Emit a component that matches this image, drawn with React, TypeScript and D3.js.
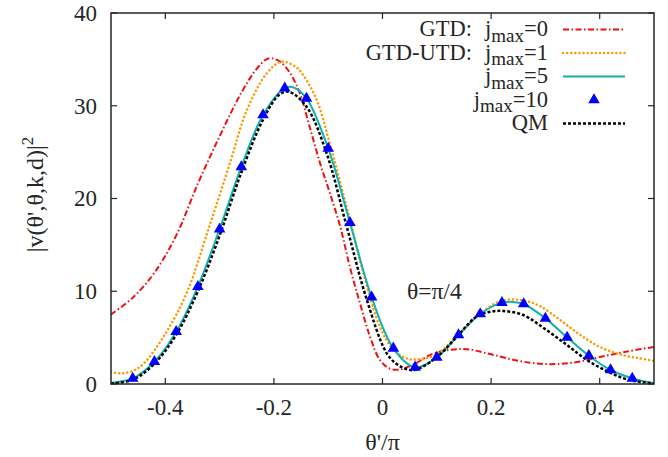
import React from "react";
import * as d3 from "d3";

// theta'/pi sample positions and |v|^2 values
const gtdX = [-0.5, -0.46, -0.42, -0.38, -0.34, -0.3, -0.26, -0.23, -0.21, -0.19, -0.17, -0.152, -0.134, -0.115, -0.097, -0.078, -0.06, -0.041, -0.023, -0.005, 0.012, 0.03, 0.06, 0.09, 0.12, 0.155, 0.2, 0.25, 0.3, 0.35, 0.4, 0.45, 0.5];
const gtdY = [7.5, 9.3, 12.0, 16.0, 21.6, 26.7, 31.4, 34.1, 35.1, 34.8, 33.5, 31.3, 27.7, 23.8, 20.6, 17.0, 12.6, 8.6, 5.1, 2.6, 1.7, 1.55, 2.2, 3.2, 3.65, 3.75, 3.2, 2.5, 2.15, 2.3, 2.9, 3.5, 4.0];

const utdX = [-0.5, -0.483, -0.46, -0.44, -0.4, -0.36, -0.32, -0.28, -0.25, -0.213, -0.186, -0.16, -0.146, -0.121, -0.097, -0.066, -0.035, -0.005, 0.02, 0.045, 0.065, 0.1, 0.14, 0.18, 0.22, 0.26, 0.29, 0.327, 0.364, 0.4, 0.437, 0.47, 0.5];
const utdY = [1.3, 1.15, 1.4, 2.2, 5.4, 9.9, 16.8, 24.0, 29.5, 33.5, 34.75, 34.2, 33.3, 30.6, 25.9, 19.1, 11.9, 6.2, 3.7, 2.75, 2.65, 3.2, 5.4, 7.6, 9.0, 9.0, 8.4, 6.9, 5.3, 4.0, 3.2, 2.8, 2.5];

const j5X = [-0.5, -0.48, -0.46, -0.42, -0.38, -0.34, -0.3, -0.26, -0.22, -0.18, -0.165, -0.14, -0.1, -0.06, -0.02, 0.02, 0.06, 0.1, 0.14, 0.18, 0.22, 0.24, 0.26, 0.3, 0.34, 0.38, 0.42, 0.46, 0.5];
const j5Y = [0.12, 0.3, 0.6, 2.4, 5.6, 10.5, 16.7, 23.4, 29.0, 31.9, 32.0, 30.8, 25.4, 17.4, 9.35, 3.85, 1.8, 2.87, 5.28, 7.55, 8.77, 8.85, 8.63, 7.08, 5.03, 3.05, 1.51, 0.61, 0.1];

const j10X = [-0.46, -0.42, -0.38, -0.34, -0.3, -0.26, -0.22, -0.18, -0.14, -0.1, -0.06, -0.02, 0.02, 0.06, 0.1, 0.14, 0.18, 0.22, 0.26, 0.3, 0.34, 0.38, 0.42, 0.46];
const j10Y = [0.61, 2.4, 5.64, 10.5, 16.7, 23.4, 29.0, 31.9, 30.8, 25.4, 17.4, 9.35, 3.85, 1.8, 2.87, 5.28, 7.55, 8.77, 8.63, 7.08, 5.03, 3.05, 1.51, 0.61];

const qmX = [-0.5, -0.46, -0.42, -0.38, -0.34, -0.3, -0.26, -0.22, -0.19, -0.172, -0.14, -0.103, -0.066, -0.029, 0.008, 0.03, 0.057, 0.1, 0.137, 0.173, 0.2, 0.223, 0.259, 0.3, 0.34, 0.376, 0.413, 0.45, 0.5];
const qmY = [0.05, 0.45, 2.2, 5.3, 10.0, 16.0, 22.8, 28.5, 31.2, 31.5, 29.9, 24.9, 17.0, 9.1, 3.3, 2.0, 1.5, 2.9, 5.1, 7.26, 7.8, 7.87, 7.44, 5.9, 4.2, 2.6, 1.4, 0.5, 0.05];

const xTicks = [-0.4, -0.2, 0, 0.2, 0.4];
const yTicks = [0, 10, 20, 30, 40];

const legendNames = ["GTD:", "GTD-UTD:", "", "", "QM"];
const legendJ = ["=0", "=1", "=5", "=10", ""];

const FONT = "Liberation Serif";
const INK = "#262626";

const left = 111, right = 654, top = 13, bottom = 384;
const x = d3.scaleLinear().domain([-0.5, 0.5]).range([left, right]);
const y = d3.scaleLinear().domain([0, 40]).range([bottom, top]);

const zip = (xs: number[], ys: number[]) => xs.map((v, i) => [v, ys[i]] as [number, number]);

const line = d3.line<[number, number]>()
    .x(d => x(d[0]))
    .y(d => y(d[1]))
    .curve(d3.curveCatmullRom.alpha(0.5));

const series = [
    { data: zip(gtdX, gtdY), color: "#ee1111", width: 2, dash: "6,2.5,1.5,2.5", cap: "butt" },
    { data: zip(utdX, utdY), color: "#ff9a00", width: 2.5, dash: "0.1,4", cap: "round" },
    { data: zip(j5X, j5Y), color: "#12b0b0", width: 2, dash: undefined, cap: "butt" },
    { data: zip(qmX, qmY), color: "#000000", width: 2.5, dash: "3,2", cap: "butt" },
];

const tri = d3.symbol().type(d3.symbolTriangle).size(58)() as string;

const txt = (size: number) => ({ fontFamily: FONT, fontSize: `${size}px`, fill: INK } as React.CSSProperties);

const App = () => {
    const tl = 6;
    return (
        <svg width={668} height={457}
            style={{ position: "absolute", left: 0, top: 0, background: "#fff" }}>
            <defs>
                <clipPath id="plotclip">
                    <rect x={left} y={top} width={right - left} height={bottom - top} />
                </clipPath>
            </defs>
            <g clipPath="url(#plotclip)">
                {series.map((s, i) => (
                    <path key={i} d={line(s.data) as string} fill="none" stroke={s.color}
                        strokeWidth={s.width} strokeLinecap={s.cap as any} strokeDasharray={s.dash} />
                ))}
                {zip(j10X, j10Y).map((d, i) => (
                    <path key={i} d={tri} transform={`translate(${x(d[0])},${y(d[1])})`} fill="#0000ff" />
                ))}
            </g>

            <rect x={left} y={top} width={right - left} height={bottom - top}
                fill="none" stroke={INK} strokeWidth={1.5} />

            {xTicks.map(t => (
                <g key={t}>
                    <line x1={x(t)} x2={x(t)} y1={bottom} y2={bottom - tl} stroke={INK} strokeWidth={1.2} />
                    <line x1={x(t)} x2={x(t)} y1={top} y2={top + tl} stroke={INK} strokeWidth={1.2} />
                    <text x={x(t)} y={bottom + 31} textAnchor="middle" style={txt(23)}>
                        {t === 0 ? "0" : d3.format(".1f")(t).replace("−", "-")}
                    </text>
                </g>
            ))}
            {yTicks.map(t => (
                <g key={t}>
                    <line x1={left} x2={left + tl} y1={y(t)} y2={y(t)} stroke={INK} strokeWidth={1.2} />
                    <line x1={right} x2={right - tl} y1={y(t)} y2={y(t)} stroke={INK} strokeWidth={1.2} />
                    <text x={left - 14} y={y(t) + 7.8} textAnchor="end" style={txt(23)}>{t}</text>
                </g>
            ))}

            <text x={(left + right) / 2} y={450} textAnchor="middle" style={txt(24)}>θ'/π</text>

            <text transform={`translate(43,${(top + bottom) / 2 - 4}) rotate(-90)`} textAnchor="middle" style={txt(24)}>
                <tspan>|v(θ',θ,k,d)|</tspan>
                <tspan dy={-10} style={{ fontSize: "17px" }}>2</tspan>
            </text>

            <text x={407} y={298.5} style={txt(23.5)}>θ=π/4</text>

            {legendNames.map((name, i) => {
                const base = 36 + i * 23.5;
                const ly = base - 6.5;
                const sx0 = 563, sx1 = 625;
                const s = series[i === 4 ? 3 : Math.min(i, 2)];
                return (
                    <g key={i}>
                        <text x={548} y={base} textAnchor="end" style={txt(22.5)}>
                            {name && <tspan>{name}</tspan>}
                            {legendJ[i] && <tspan dx={name ? 13 : 0}>j</tspan>}
                            {legendJ[i] && <tspan dy={5.5} style={{ fontSize: "19px" }}>max</tspan>}
                            {legendJ[i] && <tspan dy={-5.5}>{legendJ[i]}</tspan>}
                        </text>
                        {i === 3
                            ? <path d={tri} transform={`translate(${(sx0 + sx1) / 2},${ly})`} fill="#0000ff" />
                            : <line x1={sx0} x2={sx1} y1={ly} y2={ly} stroke={s.color} strokeWidth={s.width}
                                strokeLinecap={s.cap as any} strokeDasharray={s.dash} />}
                    </g>
                );
            })}
        </svg>
    );
};

export default App;
